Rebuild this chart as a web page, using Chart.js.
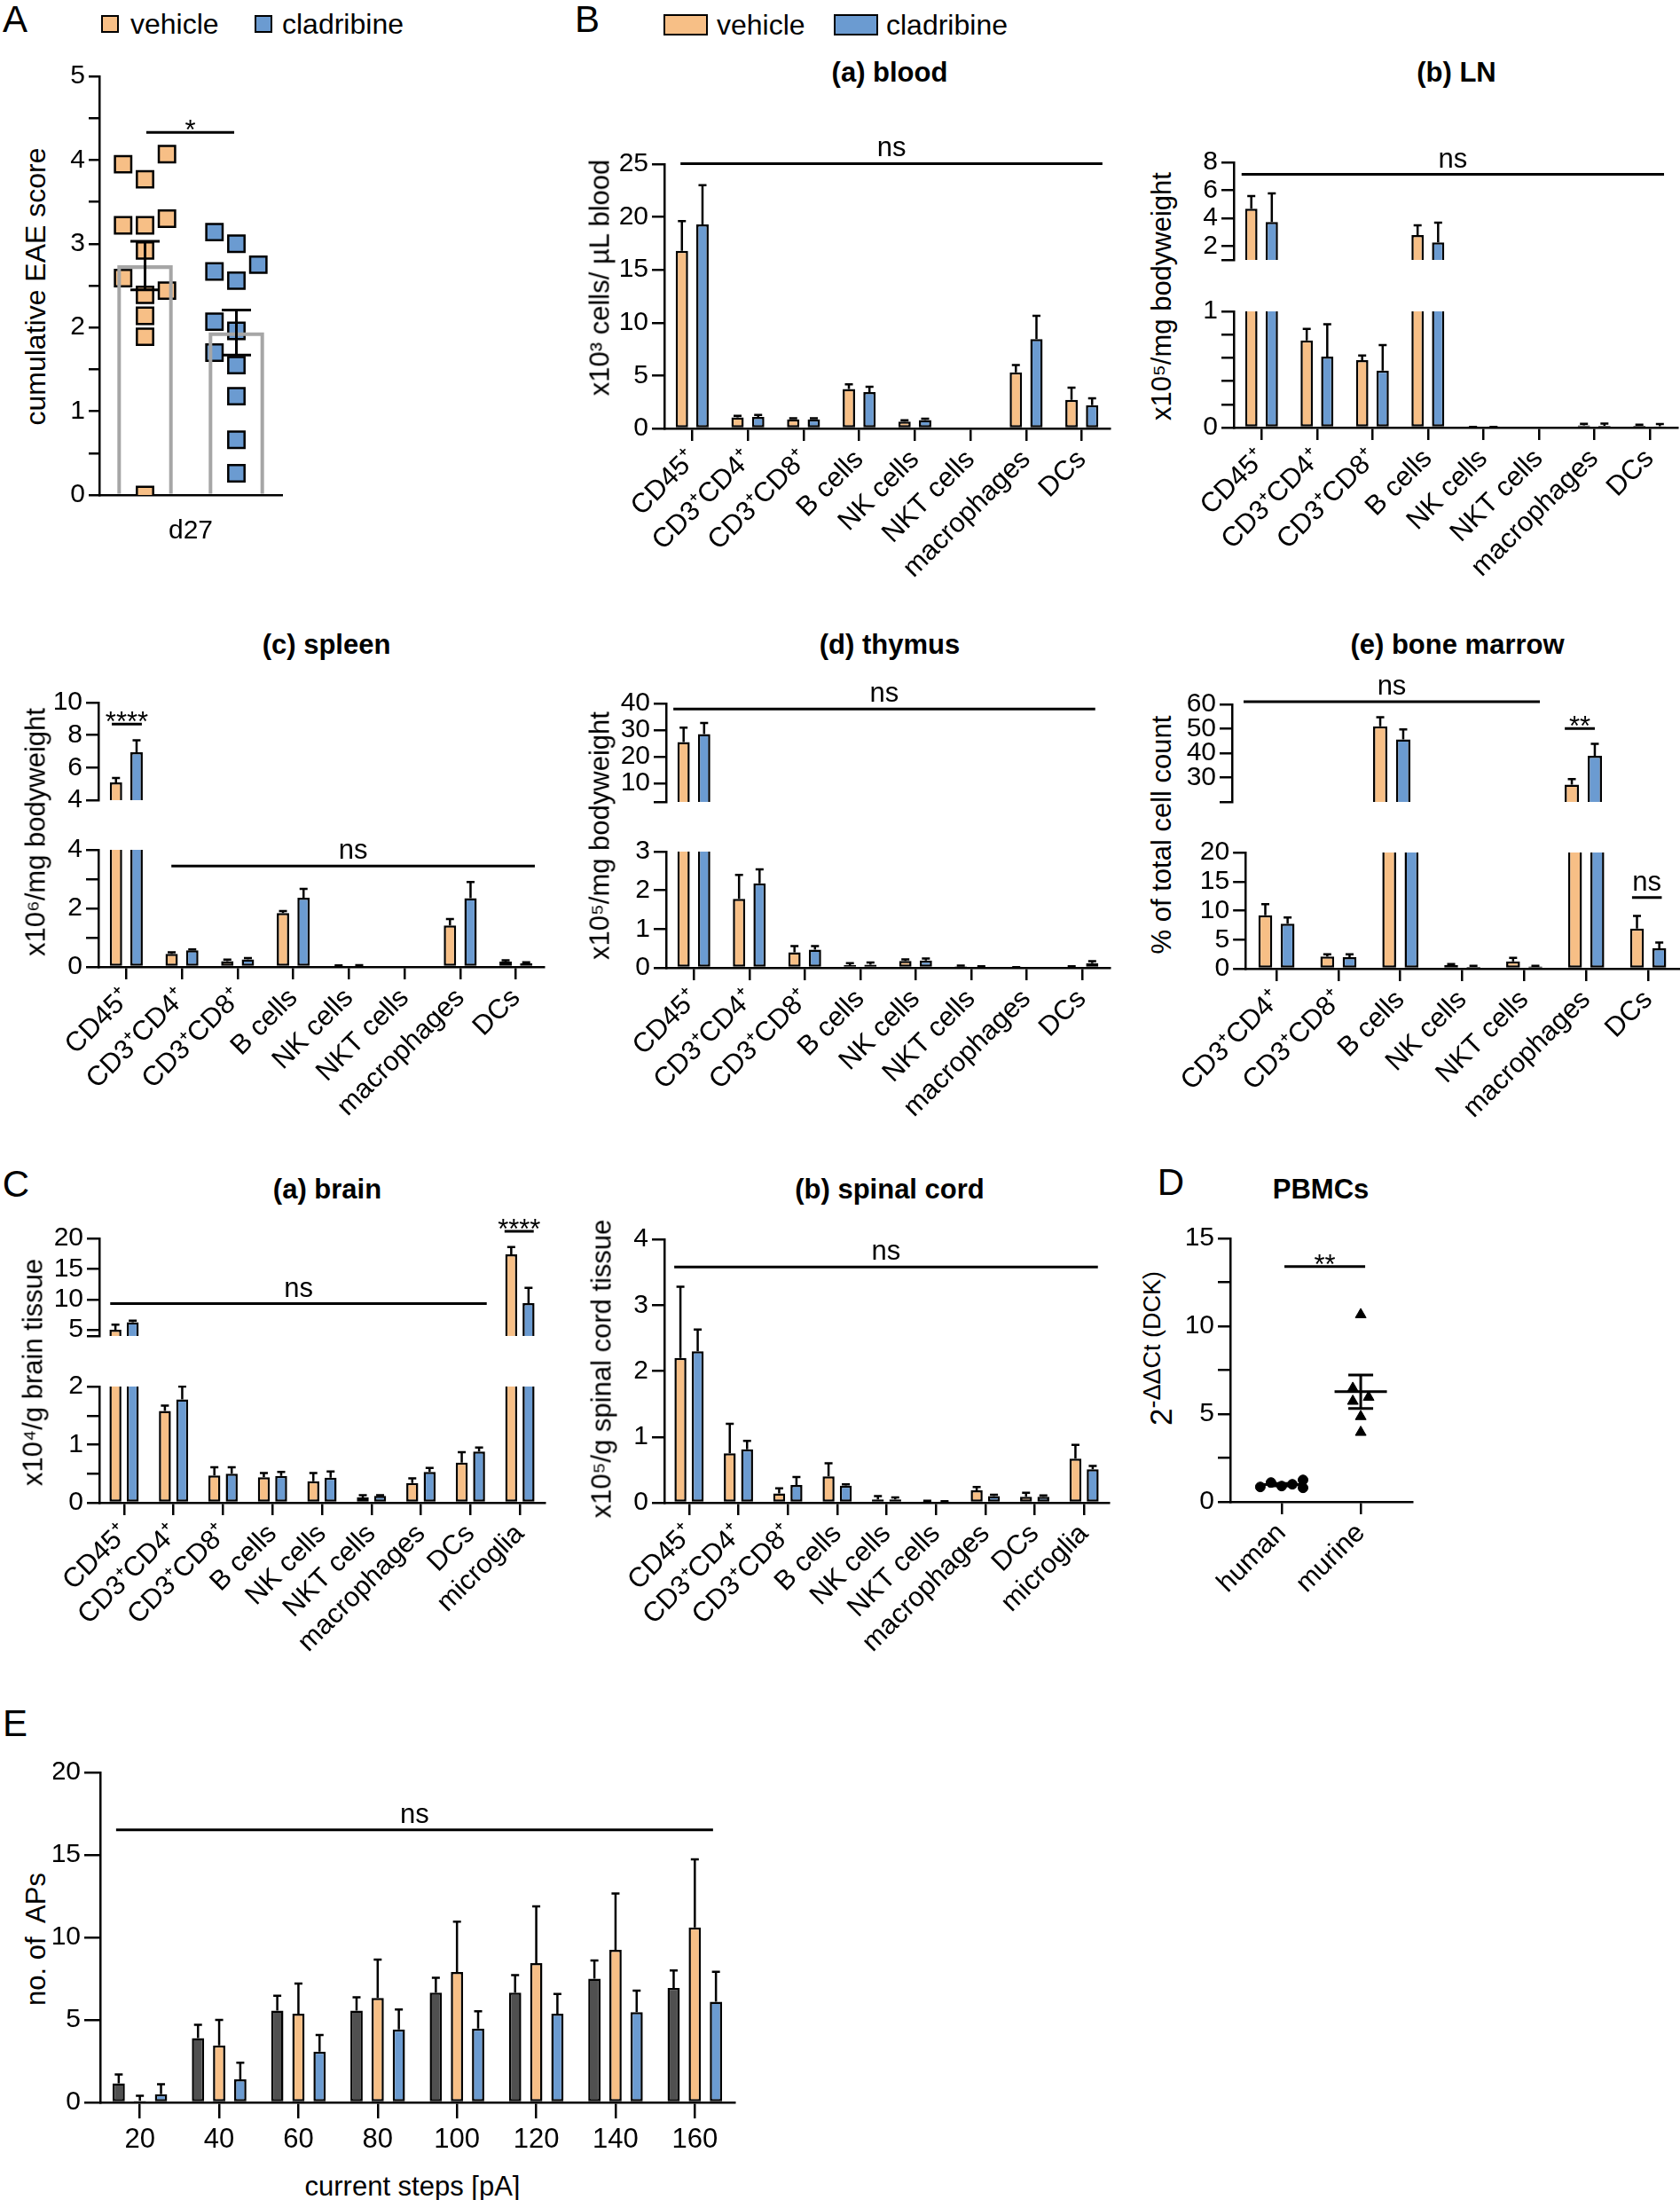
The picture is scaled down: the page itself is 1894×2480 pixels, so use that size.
<!DOCTYPE html>
<html lang="en">
<head>
<meta charset="UTF-8">
<title>Cladribine immune cell counts</title>
<script src="https://cdn.jsdelivr.net/npm/chart.js"></script>
<style>
  body { margin: 0; background: #fff; font-family: "Liberation Sans", Arial, sans-serif; }
  #fig { position: relative; width: 1894px; height: 2480px; overflow: hidden; background: #fff; }
  #fig canvas { position: absolute; }
  .t { position: absolute; white-space: nowrap; line-height: 1; color: #000; }
  .box { position: absolute; border: 2.5px solid #000; box-sizing: border-box; }
</style>
</head>
<body>
<div id="fig"></div>
<script>
// ---- data ----
const cells = ['CD45⁺', 'CD3⁺CD4⁺', 'CD3⁺CD8⁺', 'B cells', 'NK cells', 'NKT cells', 'macrophages', 'DCs'];
const cellsBM = ['CD3⁺CD4⁺', 'CD3⁺CD8⁺', 'B cells', 'NK cells', 'NKT cells', 'macrophages', 'DCs'];
const cellsCNS = ['CD45⁺', 'CD3⁺CD4⁺', 'CD3⁺CD8⁺', 'B cells', 'NK cells', 'NKT cells', 'macrophages', 'DCs', 'microglia'];

// A: cumulative EAE score, d27
const aGroupX = [0.25, 0.75];
const aVehicle = [4.07, 3.95, 3.77, 3.30, 3.22, 3.22, 2.92, 2.59, 2.44, 2.39, 2.14, 1.89, 0];
const aVehicleSlot = [1, -1, 0, 1, -1, 0, 0, -1, 1, 0, 0, 0, 0];
const aClad = [3.14, 3.00, 2.75, 2.67, 2.56, 2.07, 1.96, 1.70, 1.55, 1.18, 0.66, 0.26];
const aCladSlot = [-1, 0, 1, -1, 0, -1, 0, -1, 0, 0, 0, 0];
const aMean = [2.74, 1.94];
const aSem = [0.29, 0.27];

// B (a) blood
const bloodVeh = [16.8, 1.04, 0.85, 3.73, 0.65, 0, 5.3, 2.7];
const bloodVehSem = [2.8, 0.15, 0.12, 0.45, 0.12, 0, 0.7, 1.15];
const bloodClad = [19.3, 1.1, 0.85, 3.45, 0.8, 0, 8.46, 2.2];
const bloodCladSem = [3.7, 0.18, 0.12, 0.5, 0.12, 0, 2.2, 0.65];

// B (b) LN
const lnVeh = [4.68, 0.75, 0.58, 2.78, 0.004, 0, 0.02, 0.015];
const lnVehSem = [0.9, 0.1, 0.04, 0.7, 0.002, 0, 0.012, 0.01];
const lnClad = [3.72, 0.61, 0.49, 2.25, 0.004, 0, 0.015, 0.012];
const lnCladSem = [2.05, 0.28, 0.22, 1.42, 0.002, 0, 0.02, 0.018];

// B (c) spleen
const spleenVeh = [5.09, 0.45, 0.2, 1.84, 0.03, 0, 1.42, 0.18];
const spleenVehSem = [0.27, 0.05, 0.05, 0.07, 0.02, 0, 0.22, 0.05];
const spleenClad = [6.94, 0.57, 0.26, 2.36, 0.04, 0, 2.35, 0.13];
const spleenCladSem = [0.74, 0.03, 0.04, 0.31, 0.02, 0, 0.55, 0.03];

// B (d) thymus
const thymusVeh = [25.5, 1.78, 0.4, 0.07, 0.18, 0.04, 0.01, 0.03];
const thymusVehSem = [5.4, 0.62, 0.16, 0.05, 0.04, 0.02, 0.01, 0.01];
const thymusClad = [28.5, 2.18, 0.47, 0.08, 0.19, 0.03, 0, 0.12];
const thymusCladSem = [4.2, 0.36, 0.09, 0.06, 0.05, 0.01, 0, 0.05];

// B (e) bone marrow
const bmVeh = [9.2, 2.1, 51.0, 0.6, 1.27, 27.1, 6.9];
const bmVehSem = [1.9, 0.4, 3.7, 0.2, 0.6, 2.3, 2.2];
const bmClad = [7.75, 2.0, 45.6, 0.3, 0.4, 38.9, 3.5];
const bmCladSem = [1.05, 0.5, 4.1, 0.2, 0.1, 4.9, 1.0];

// C (a) brain
const brainVeh = [5.02, 1.58, 0.47, 0.44, 0.37, 0.09, 0.34, 0.69, 17.4];
const brainVehSem = [0.83, 0.09, 0.14, 0.07, 0.14, 0.04, 0.08, 0.18, 1.2];
const brainClad = [6.27, 1.78, 0.5, 0.46, 0.43, 0.12, 0.53, 0.88, 9.4];
const brainCladSem = [0.23, 0.22, 0.11, 0.07, 0.11, 0.01, 0.07, 0.07, 2.5];

// C (b) spinal cord
const spinalVeh = [2.2, 0.75, 0.14, 0.4, 0.05, 0.02, 0.19, 0.09, 0.67];
const spinalVehSem = [1.08, 0.45, 0.08, 0.2, 0.05, 0.01, 0.05, 0.06, 0.21];
const spinalClad = [2.3, 0.81, 0.27, 0.26, 0.05, 0.02, 0.1, 0.09, 0.51];
const spinalCladSem = [0.33, 0.13, 0.12, 0.02, 0.03, 0.005, 0.02, 0.02, 0.05];

// D PBMCs
const dGroups = ['human', 'murine'];
const dHuman = [0.85, 1.10, 0.90, 1.00, 1.25, 0.80];
const dHumanSlot = [-2, -1, 0, 1, 2, 2];
const dMurine = [10.66, 6.47, 5.73, 5.96, 4.86, 3.96];
const dMurineSlot = [0, -1, -1, 1, 0, 0];
const dMean = [0.98, 6.27];
const dSem = [0.07, 0.95];

// E action potentials
const eSteps = ['20', '40', '60', '80', '100', '120', '140', '160'];
const eDark = [1.15, 3.9, 5.57, 5.57, 6.65, 6.65, 7.5, 6.93];
const eDarkSem = [0.55, 0.8, 0.9, 0.8, 0.91, 1.07, 1.1, 1.07];
const eVeh = [0.1, 3.45, 5.37, 6.33, 7.9, 8.44, 9.25, 10.6];
const eVehSem = [0.3, 1.55, 1.83, 2.33, 3.05, 3.44, 3.41, 4.13];
const eClad = [0.5, 1.4, 3.08, 4.42, 4.48, 5.37, 5.47, 6.1];
const eCladSem = [0.6, 1.0, 1.0, 1.21, 1.05, 1.2, 1.3, 1.82];

// ---- style ----
const ORANGE = '#f7bf86';
const BLUE = '#6b9bd1';
const DARK = '#505050';
const FONT = '"Liberation Sans", Arial, sans-serif';
Chart.defaults.font.family = FONT;
Chart.defaults.font.size = 30;
Chart.defaults.color = '#000';

const fig = document.getElementById('fig');

// error bars, mean/SEM summaries and significance lines
const marks = {
  id: 'marks',
  afterDatasetsDraw(chart, args, o) {
    const ctx = chart.ctx, a = chart.chartArea, xs = chart.scales.x, ys = chart.scales.y;
    ctx.save();
    ctx.strokeStyle = '#000';
    ctx.lineWidth = 2.5;
    ctx.beginPath();
    ctx.rect(0, a.top - 1, chart.width, a.bottom - a.top + 2);
    ctx.clip();
    chart.data.datasets.forEach((ds, i) => {
      if (!ds.sem) return;
      chart.getDatasetMeta(i).data.forEach((bar, j) => {
        const v = ds.data[j], s = ds.sem[j];
        if (v === null || !s) return;
        const top = ys.getPixelForValue(v + s);
        const from = Math.min(ys.getPixelForValue(v), a.bottom + 2);
        ctx.beginPath();
        ctx.moveTo(bar.x, from);
        ctx.lineTo(bar.x, top);
        ctx.moveTo(bar.x - 4.5, top);
        ctx.lineTo(bar.x + 4.5, top);
        ctx.stroke();
      });
    });
    ctx.lineWidth = 3;
    (o.summary || []).forEach(m => {
      const x = xs.getPixelForValue(m.x);
      const hi = ys.getPixelForValue(m.mean + m.sem);
      const lo = ys.getPixelForValue(m.mean - m.sem);
      const mid = ys.getPixelForValue(m.mean);
      ctx.beginPath();
      ctx.moveTo(x, hi); ctx.lineTo(x, lo);
      ctx.moveTo(x - m.cap / 2, hi); ctx.lineTo(x + m.cap / 2, hi);
      ctx.moveTo(x - m.cap / 2, lo); ctx.lineTo(x + m.cap / 2, lo);
      if (m.line) { ctx.moveTo(x - m.line / 2, mid); ctx.lineTo(x + m.line / 2, mid); }
      ctx.stroke();
    });
    ctx.restore();

    ctx.save();
    ctx.strokeStyle = '#000';
    ctx.fillStyle = '#000';
    ctx.lineWidth = 3;
    ctx.font = '31px ' + FONT;
    ctx.textAlign = 'center';
    (o.sig || []).forEach(s => {
      const x0 = xs.getPixelForValue(s.x0), x1 = xs.getPixelForValue(s.x1), y = ys.getPixelForValue(s.y);
      ctx.beginPath();
      ctx.moveTo(x0, y);
      ctx.lineTo(x1, y);
      ctx.stroke();
      ctx.fillText(s.text, (x0 + x1) / 2, y + (s.text.includes('*') ? 8 : -8));
    });
    ctx.restore();
  }
};
Chart.register(marks);

function addCanvas(box) {
  const c = document.createElement('canvas');
  c.width = box.w;
  c.height = box.h;
  c.style.left = box.x + 'px';
  c.style.top = box.y + 'px';
  c.style.width = box.w + 'px';
  c.style.height = box.h + 'px';
  fig.appendChild(c);
  return c;
}

function yAxis(y, box, area) {
  return {
    type: 'linear', min: y.min, max: y.max,
    afterBuildTicks: sc => { sc.ticks = y.ticks.map(v => ({ value: v })); },
    afterFit: sc => { sc.width = area.l - box.x; },
    grid: { drawOnChartArea: false, color: '#000', lineWidth: 2.5, tickLength: y.tl || 14 },
    border: { color: '#000', width: 2.5 },
    ticks: { autoSkip: false, padding: 4, callback: v => (y.labels.includes(v) ? String(v) : '') }
  };
}

function layout(box, area, bottomPad) {
  return {
    autoPadding: false,
    padding: { left: 0, top: area.t - box.y, right: box.x + box.w - area.r, bottom: bottomPad }
  };
}

// one bar chart (or one segment of a broken axis)
function barChart(s) {
  const { box, area } = s;
  const rot = s.rot === undefined ? 45 : s.rot;
  const x = {
    type: 'category', display: s.showX,
    grid: { offset: false, drawOnChartArea: false, color: '#000', lineWidth: 2.5, tickLength: s.tickX || 14 },
    border: { color: '#000', width: 2.5 },
    ticks: { autoSkip: false, maxRotation: rot, minRotation: rot, padding: s.padX || 3, font: { size: 31 } }
  };
  if (s.showX) x.afterFit = sc => { sc.height = box.y + box.h - area.b; };
  // a segment above a break only shows the values that reach into it
  const keep = v => (v > s.y.min ? v : null);
  return new Chart(addCanvas(box), {
    type: 'bar',
    data: {
      labels: s.labels,
      datasets: s.sets.map(d => ({
        data: d.v.map(keep), sem: d.sem, backgroundColor: d.c, borderColor: '#000', borderWidth: 2.5,
        borderSkipped: false, clip: 0, barPercentage: s.bp, categoryPercentage: s.cp
      }))
    },
    options: {
      responsive: false, animation: false, devicePixelRatio: 1,
      layout: layout(box, area, s.showX ? 0 : box.y + box.h - area.b),
      plugins: { legend: { display: false }, tooltip: { enabled: false }, marks: { sig: s.sig || [] } },
      scales: { x, y: yAxis(s.y, box, area) }
    }
  });
}

function twoGroup(veh, vehSem, clad, cladSem) {
  return [{ v: veh, sem: vehSem, c: ORANGE }, { v: clad, sem: cladSem, c: BLUE }];
}

function text(html, x, y, size, o = {}) {
  const d = document.createElement('div');
  d.className = 't';
  d.innerHTML = html;
  d.style.left = x + 'px';
  d.style.top = y + 'px';
  d.style.fontSize = size + 'px';
  if (o.bold) d.style.fontWeight = 'bold';
  const tx = o.left ? 'translate(0,-50%)' : 'translate(-50%,-50%)';
  d.style.transform = tx + (o.rot ? ' rotate(-90deg)' : '');
  fig.appendChild(d);
}

function swatch(x, y, w, h, color) {
  const d = document.createElement('div');
  d.className = 'box';
  d.style.cssText += `left:${x}px;top:${y}px;width:${w}px;height:${h}px;background:${color};`;
  fig.appendChild(d);
}

// ---- panel A ----
{
  const box = { x: 60, y: 60, w: 280, h: 580 }, area = { l: 112, t: 86, r: 318, b: 558 };
  new Chart(addCanvas(box), {
    type: 'bar',
    data: {
      datasets: [
        {
          type: 'bar', data: aMean.map((m, i) => ({ x: aGroupX[i], y: m })),
          backgroundColor: 'rgba(0,0,0,0)', borderColor: '#a6a6a6', borderWidth: 3.5, barThickness: 62
        },
        {
          type: 'scatter', data: aVehicle.map((v, i) => ({ x: aGroupX[0] + aVehicleSlot[i] * 0.12, y: v })),
          pointStyle: 'rect', pointRadius: 13, backgroundColor: ORANGE, borderColor: '#000', borderWidth: 2.5
        },
        {
          type: 'scatter', data: aClad.map((v, i) => ({ x: aGroupX[1] + aCladSlot[i] * 0.12, y: v })),
          pointStyle: 'rect', pointRadius: 13, backgroundColor: BLUE, borderColor: '#000', borderWidth: 2.5
        }
      ]
    },
    options: {
      responsive: false, animation: false, devicePixelRatio: 1,
      layout: layout(box, area, 0),
      plugins: {
        legend: { display: false }, tooltip: { enabled: false },
        marks: {
          summary: aMean.map((m, i) => ({ x: aGroupX[i], mean: m, sem: aSem[i], cap: 33, line: 0 })),
          sig: [{ x0: 0.257, x1: 0.738, y: 4.33, text: '*' }]
        }
      },
      scales: {
        x: {
          type: 'linear', min: 0, max: 1, offset: false,
          afterBuildTicks: sc => { sc.ticks = [{ value: 0.5 }]; },
          afterFit: sc => { sc.height = box.y + box.h - area.b; },
          grid: { display: false, drawTicks: false, offset: false },
          border: { color: '#000', width: 2.5 },
          ticks: { padding: 23, maxRotation: 0, callback: () => 'd27' }
        },
        y: yAxis({ min: 0, max: 5, ticks: [0, 0.5, 1, 1.5, 2, 2.5, 3, 3.5, 4, 4.5, 5], labels: [0, 1, 2, 3, 4, 5], tl: 12 }, box, area)
      }
    }
  });
}

// ---- panel B ----
const bp8 = 0.6, cp8 = 0.74;
barChart({
  box: { x: 690, y: 140, w: 575, h: 560 }, area: { l: 749, t: 185, r: 1251, b: 483 },
  labels: cells, sets: twoGroup(bloodVeh, bloodVehSem, bloodClad, bloodCladSem), showX: true, bp: bp8, cp: cp8,
  y: { min: 0, max: 25, ticks: [0, 5, 10, 15, 20, 25], labels: [0, 5, 10, 15, 20, 25] },
  sig: [{ x0: -0.21, x1: 7.37, y: 25.05, text: 'ns' }]
});

barChart({
  box: { x: 1330, y: 140, w: 564, h: 175 }, area: { l: 1391, t: 183, r: 1891, b: 315 },
  labels: cells, sets: twoGroup(lnVeh, lnVehSem, lnClad, lnCladSem), showX: false, bp: bp8, cp: cp8,
  y: { min: 1, max: 8, ticks: [1, 2, 4, 6, 8], labels: [2, 4, 6, 8] },
  sig: [{ x0: -0.36, x1: 7.26, y: 7.14, text: 'ns' }]
});
barChart({
  box: { x: 1330, y: 320, w: 564, h: 380 }, area: { l: 1391, t: 351, r: 1891, b: 482 },
  labels: cells, sets: twoGroup(lnVeh, lnVehSem, lnClad, lnCladSem), showX: true, bp: bp8, cp: cp8,
  y: { min: 0, max: 1, ticks: [0, 0.2, 0.4, 0.6, 0.8, 1], labels: [0, 1] }
});

barChart({
  box: { x: 50, y: 765, w: 580, h: 159 }, area: { l: 111, t: 792, r: 613, b: 924 },
  labels: cells, sets: twoGroup(spleenVeh, spleenVehSem, spleenClad, spleenCladSem), showX: false, bp: bp8, cp: cp8,
  y: { min: 4, max: 10, ticks: [4, 6, 8, 10], labels: [4, 6, 8, 10] },
  sig: [{ x0: -0.26, x1: 0.28, y: 8.68, text: '****' }]
});
barChart({
  box: { x: 50, y: 930, w: 580, h: 370 }, area: { l: 111, t: 958, r: 613, b: 1090 },
  labels: cells, sets: twoGroup(spleenVeh, spleenVehSem, spleenClad, spleenCladSem), showX: true, bp: bp8, cp: cp8,
  y: { min: 0, max: 4, ticks: [0, 1, 2, 3, 4], labels: [0, 2, 4] },
  sig: [{ x0: 0.81, x1: 7.34, y: 3.45, text: 'ns' }]
});

barChart({
  box: { x: 690, y: 765, w: 575, h: 161 }, area: { l: 751, t: 793, r: 1251, b: 926 },
  labels: cells, sets: twoGroup(thymusVeh, thymusVehSem, thymusClad, thymusCladSem), showX: false, bp: bp8, cp: cp8,
  y: { min: 3, max: 40, ticks: [3, 10, 20, 30, 40], labels: [10, 20, 30, 40] },
  sig: [{ x0: -0.37, x1: 7.24, y: 37.9, text: 'ns' }]
});
barChart({
  box: { x: 690, y: 935, w: 575, h: 365 }, area: { l: 751, t: 960, r: 1251, b: 1091 },
  labels: cells, sets: twoGroup(thymusVeh, thymusVehSem, thymusClad, thymusCladSem), showX: true, bp: bp8, cp: cp8,
  y: { min: 0, max: 3, ticks: [0, 1, 2, 3], labels: [0, 1, 2, 3] }
});

barChart({
  box: { x: 1330, y: 750, w: 564, h: 176 }, area: { l: 1389, t: 794, r: 1893, b: 926 },
  labels: cellsBM, sets: twoGroup(bmVeh, bmVehSem, bmClad, bmCladSem), showX: false, bp: 0.62, cp: 0.72,
  y: { min: 20, max: 60, ticks: [20, 30, 40, 50, 60], labels: [30, 40, 50, 60] },
  sig: [{ x0: -0.32, x1: 4.32, y: 61.1, text: 'ns' }, { x0: 4.71, x1: 5.18, y: 50.1, text: '**' }]
});
barChart({
  box: { x: 1330, y: 935, w: 564, h: 365 }, area: { l: 1389, t: 961, r: 1893, b: 1092 },
  labels: cellsBM, sets: twoGroup(bmVeh, bmVehSem, bmClad, bmCladSem), showX: true, bp: 0.62, cp: 0.72,
  y: { min: 0, max: 20, ticks: [0, 5, 10, 15, 20], labels: [0, 5, 10, 15, 20] },
  sig: [{ x0: 5.74, x1: 6.22, y: 12.25, text: 'ns' }]
});

// ---- panel C ----
barChart({
  box: { x: 50, y: 1365, w: 580, h: 163 }, area: { l: 112, t: 1396, r: 614, b: 1528 },
  labels: cellsCNS, sets: twoGroup(brainVeh, brainVehSem, brainClad, brainCladSem), showX: false, bp: 0.69, cp: 0.7,
  y: { min: 4, max: 20, ticks: [4, 5, 10, 15, 20], labels: [5, 10, 15, 20] },
  sig: [{ x0: -0.28, x1: 7.33, y: 9.3, text: 'ns' }, { x0: 7.69, x1: 8.28, y: 21.15, text: '****' }]
});
barChart({
  box: { x: 50, y: 1540, w: 580, h: 380 }, area: { l: 112, t: 1563, r: 614, b: 1694 },
  labels: cellsCNS, sets: twoGroup(brainVeh, brainVehSem, brainClad, brainCladSem), showX: true, bp: 0.69, cp: 0.7,
  y: { min: 0, max: 2, ticks: [0, 0.5, 1, 1.5, 2], labels: [0, 1, 2] }
});

barChart({
  box: { x: 690, y: 1370, w: 575, h: 550 }, area: { l: 749, t: 1397, r: 1250, b: 1694 },
  labels: cellsCNS, sets: twoGroup(spinalVeh, spinalVehSem, spinalClad, spinalCladSem), showX: true, bp: 0.69, cp: 0.7,
  y: { min: 0, max: 4, ticks: [0, 1, 2, 3, 4], labels: [0, 1, 2, 3, 4] },
  sig: [{ x0: -0.30, x1: 8.28, y: 3.58, text: 'ns' }]
});

// ---- panel D ----
{
  const box = { x: 1330, y: 1370, w: 300, h: 470 }, area = { l: 1387, t: 1396, r: 1592, b: 1693 };
  new Chart(addCanvas(box), {
    type: 'scatter',
    data: {
      datasets: [
        { data: dHuman.map((v, i) => ({ x: 0 + dHumanSlot[i] * 0.135, y: v })), pointStyle: 'circle', pointRadius: 5.5, backgroundColor: '#000', borderColor: '#000' },
        { data: dMurine.map((v, i) => ({ x: 1 + dMurineSlot[i] * 0.1, y: v })), pointStyle: 'triangle', pointRadius: 7, backgroundColor: '#000', borderColor: '#000' }
      ]
    },
    options: {
      responsive: false, animation: false, devicePixelRatio: 1,
      layout: layout(box, area, 0),
      plugins: {
        legend: { display: false }, tooltip: { enabled: false },
        marks: {
          summary: dMean.map((m, i) => ({ x: i, mean: m, sem: dSem[i], cap: i ? 28 : 30, line: i ? 59 : 55 })),
          sig: [{ x0: 0.035, x1: 1.056, y: 13.4, text: '**' }]
        }
      },
      scales: {
        x: {
          type: 'linear', min: -0.65, max: 1.65,
          afterBuildTicks: sc => { sc.ticks = dGroups.map((g, i) => ({ value: i })); },
          afterFit: sc => { sc.height = box.y + box.h - area.b; },
          grid: { drawOnChartArea: false, color: '#000', lineWidth: 2.5, tickLength: 14 },
          border: { color: '#000', width: 2.5 },
          ticks: { autoSkip: false, maxRotation: 45, minRotation: 45, padding: 3, font: { size: 31 }, callback: v => dGroups[v] }
        },
        y: yAxis({ min: 0, max: 15, ticks: [0, 2.5, 5, 7.5, 10, 12.5, 15], labels: [0, 5, 10, 15] }, box, area)
      }
    }
  });
}

// ---- panel E ----
barChart({
  box: { x: 60, y: 1970, w: 780, h: 470 }, area: { l: 113, t: 1998, r: 828, b: 2370 },
  labels: eSteps,
  sets: [{ v: eDark, sem: eDarkSem, c: DARK }, { v: eVeh, sem: eVehSem, c: ORANGE }, { v: eClad, sem: eCladSem, c: BLUE }],
  showX: true, rot: 0, tickX: 18, padX: 6, bp: 0.58, cp: 0.8,
  y: { min: 0, max: 20, ticks: [0, 5, 10, 15, 20], labels: [0, 5, 10, 15, 20], tl: 18 },
  sig: [{ x0: -0.3, x1: 7.23, y: 16.52, text: 'ns' }]
});

// ---- text, letters, legends ----
text('A', 17, 22, 42);
text('B', 662, 22, 42);
text('C', 18, 1335, 42);
text('D', 1320, 1333, 42);
text('E', 17, 1943, 42);

swatch(114, 17, 20, 20, ORANGE);
text('vehicle', 147, 27, 32, { left: true });
swatch(287, 17, 20, 20, BLUE);
text('cladribine', 318, 27, 32, { left: true });

swatch(748, 16, 50, 24, ORANGE);
text('vehicle', 808, 28, 32, { left: true });
swatch(940, 16, 50, 24, BLUE);
text('cladribine', 999, 28, 32, { left: true });

text('(a) blood', 1003, 81, 31, { bold: true });
text('(b) LN', 1642, 81, 31, { bold: true });
text('(c) spleen', 368, 726, 31, { bold: true });
text('(d) thymus', 1003, 726, 31, { bold: true });
text('(e) bone marrow', 1643, 726, 31, { bold: true });
text('(a) brain', 369, 1340, 31, { bold: true });
text('(b) spinal cord', 1003, 1340, 31, { bold: true });
text('PBMCs', 1489, 1340, 31, { bold: true });

text('cumulative EAE score', 40, 323, 32, { rot: true });
text('x10³ cells/ µL blood', 676, 313, 31, { rot: true });
text('x10⁵/mg bodyweight', 1309, 334, 31, { rot: true });
text('x10⁶/mg bodyweight', 40, 938, 31, { rot: true });
text('x10⁵/mg bodyweight', 676, 942, 31, { rot: true });
text('% of total cell count', 1309, 941, 31, { rot: true });
text('x10⁴/g brain tissue', 37, 1547, 31, { rot: true });
text('x10⁵/g spinal cord tissue', 678, 1543, 31, { rot: true });
text('2<sup style="font-size:27px">-ΔΔCt (DCK)</sup>', 1306, 1520, 35, { rot: true });
text('no. of&nbsp; APs', 40, 2186, 31, { rot: true });
text('current steps [pA]', 465, 2464, 31);
</script>
</body>
</html>
